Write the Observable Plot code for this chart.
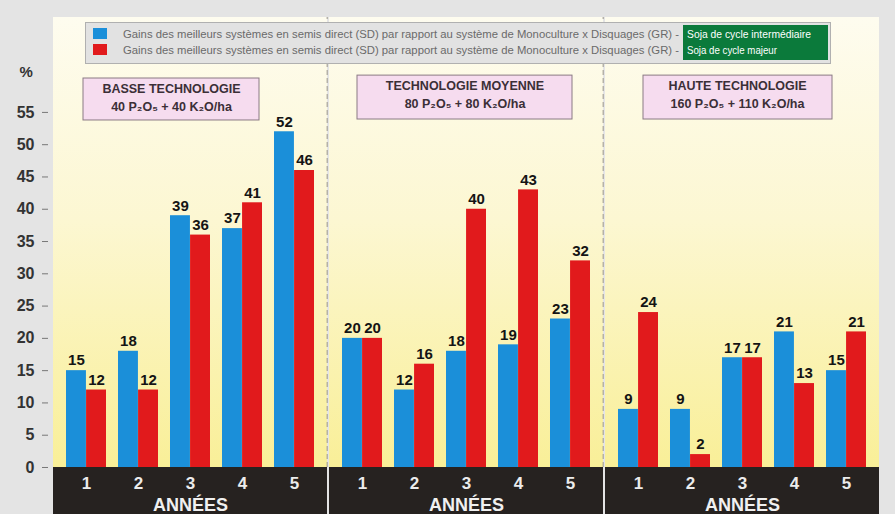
<!DOCTYPE html>
<html><head><meta charset="utf-8">
<script src="https://cdn.jsdelivr.net/npm/d3@7"></script>
<script src="https://cdn.jsdelivr.net/npm/@observablehq/plot@0.6"></script>
<style>
html,body{margin:0;padding:0;background:#e4e4e4;}
#wrap{position:relative;width:895px;height:514px;overflow:hidden;}
#wrap svg.legend{position:absolute;left:85px;top:22px;}
</style></head><body><div id="wrap"></div>
<script>
// ---- data ----
const technologies = ["BASSE TECHNOLOGIE", "TECHNOLOGIE MOYENNE", "HAUTE TECHNOLOGIE"];
const doses = ["40 P₂O₅ + 40 K₂O/ha", "80 P₂O₅ + 80 K₂O/ha", "160 P₂O₅ + 110 K₂O/ha"];
const years = ["1", "2", "3", "4", "5"];
const intermediateBasse = [15, 18, 39, 37, 52];
const intermediateMoyenne = [20, 12, 18, 19, 23];
const intermediateHaute = [9, 9, 17, 21, 15];
const majeurBasse = [12, 12, 36, 41, 46];
const majeurMoyenne = [20, 16, 40, 43, 32];
const majeurHaute = [24, 2, 17, 13, 21];
const yTicks = [0, 5, 10, 15, 20, 25, 30, 35, 40, 45, 50, 55];
const xTitle = "ANNÉES";
const yUnit = "%";
const legendText = "Gains des meilleurs systèmes en semis direct (SD) par rapport au système de Monoculture x Disquages (GR) -";
const seriesNames = ["Soja de cycle intermédiaire", "Soja de cycle majeur"];

// ---- layout ----
const W = 895, H = 514, ML = 52, MR = 15, MT = 17;
const yMin = -7.28, yMax = 69.7;
const fxPad = 0.0073, xPI = 0.24, xPO = 0.22;
const panelStep = (W - ML - MR) / (3 - fxPad);
const panelW = panelStep * (1 - fxPad);
const gap = panelStep - panelW;
const xStep = panelW / (5 - xPI + 2 * xPO);
const bw = xStep * (1 - xPI);

const blueVals = [intermediateBasse, intermediateMoyenne, intermediateHaute];
const redVals = [majeurBasse, majeurMoyenne, majeurHaute];
const blueRows = [], redRows = [], yearRows = [];
technologies.forEach((t, ti) => years.forEach((y, yi) => {
  blueRows.push({tech: t, year: y, value: blueVals[ti][yi]});
  redRows.push({tech: t, year: y, value: redVals[ti][yi]});
  yearRows.push({tech: t, year: y});
}));
const panels = technologies.map((t, i) => ({tech: t, dose: doses[i]}));

const BLUE = "#1b8fd9", RED = "#e11a1c";
const font = "Liberation Sans, Arial, Helvetica, sans-serif";

// annotation boxes (per panel insets relative to the facet frame)
const boxCfg = [
  {il: 30, ir: 68, dx: -19, top: 60.25, bot: 53.75},
  {il: 28, ir: 31, dx: -1.5, top: 60.7, bot: 53.9},
  {il: 38, ir: 47, dx: -5, top: 60.7, bot: 53.9}
];
const boxMarks = [];
panels.forEach((p, i) => {
  const c = boxCfg[i];
  boxMarks.push(Plot.rect([p], {fx: "tech", y1: () => c.bot, y2: () => c.top, insetLeft: c.il, insetRight: c.ir, fill: "#f6dcef", stroke: "#8a7a84", strokeWidth: 1}));
  boxMarks.push(Plot.text([p], {fx: "tech", y: () => c.top - 1.55, text: "tech", dx: c.dx, fontSize: 12.5, fontWeight: "bold", fill: "#3b2f37"}));
  boxMarks.push(Plot.text([p], {fx: "tech", y: () => c.top - 4.4, text: "dose", dx: c.dx, fontSize: 12.5, fontWeight: "bold", fill: "#3b2f37"}));
});

const chart = Plot.plot({
  width: W, height: H,
  marginLeft: ML, marginRight: MR, marginTop: MT, marginBottom: 0,
  style: {background: "transparent", fontFamily: font, overflow: "visible"},
  fx: {domain: technologies, paddingInner: fxPad, paddingOuter: 0, axis: null, label: null},
  x: {domain: years, paddingInner: xPI, paddingOuter: xPO, axis: null},
  y: {domain: [yMin, yMax], axis: null},
  marks: [
    Plot.rect(panels, {fx: "tech", y1: () => 0, y2: () => yMax, fill: "url(#bgGrad)"}),
    Plot.rect(panels, {fx: "tech", y1: () => yMin, y2: () => 0, fill: "#262220"}),
    Plot.ruleX(panels.slice(0, 2), {fx: "tech", x: () => "5", dx: bw / 2 + xPO * xStep + gap / 2, y1: () => 0, y2: () => yMax, stroke: "#a8a49a", strokeWidth: 1.2, strokeDasharray: "5,3"}),
    ...boxMarks,
    Plot.barY(blueRows, {fx: "tech", x: "year", y: "value", fill: BLUE, insetRight: bw / 2}),
    Plot.barY(redRows, {fx: "tech", x: "year", y: "value", fill: RED, insetLeft: bw / 2}),
    Plot.text(blueRows, {fx: "tech", x: "year", y: "value", text: "value", dx: -bw / 4, dy: -10, fontSize: 15, fontWeight: "bold", fill: "#141414"}),
    Plot.text(redRows, {fx: "tech", x: "year", y: "value", text: "value", dx: bw / 4, dy: -10, fontSize: 15, fontWeight: "bold", fill: "#141414"}),
    Plot.text(yearRows, {fx: "tech", x: "year", y: () => -2.45, text: "year", fill: "#ececec", fontSize: 17, fontWeight: "bold"}),
    Plot.text(panels, {fx: "tech", y: () => -5.85, text: () => xTitle, fill: "#f0f0f0", fontSize: 18, fontWeight: "bold"}),
    Plot.axisY(yTicks, {tickSize: 6, tickPadding: 8, dx: -5, fontSize: 16, fontWeight: "bold", fill: "#333", stroke: "#777", label: null}),
    Plot.text([panels[0]], {fx: "tech", frameAnchor: "left", dx: -34, y: () => 61.3, text: () => yUnit, fontSize: 15, fontWeight: "bold", fill: "#333"})
  ]
});

const svg = d3.select(chart);
const grad = svg.insert("defs", ":first-child").append("linearGradient")
  .attr("id", "bgGrad").attr("x1", 0).attr("y1", 0).attr("x2", 0).attr("y2", 1);
grad.append("stop").attr("offset", "0%").attr("stop-color", "#fefcef");
grad.append("stop").attr("offset", "45%").attr("stop-color", "#fcf7d2");
grad.append("stop").attr("offset", "100%").attr("stop-color", "#f9ef98");

const wrap = document.getElementById("wrap");
wrap.appendChild(chart);

// legend overlay
const lg = d3.select(wrap).append("svg").attr("class", "legend").attr("width", 748).attr("height", 44);
lg.append("rect").attr("x", 0.5).attr("y", 0.5).attr("width", 745).attr("height", 41).attr("fill", "#e2e2e2").attr("stroke", "#b0b0b0");
lg.append("rect").attr("x", 8).attr("y", 6).attr("width", 14).attr("height", 11).attr("fill", BLUE);
lg.append("rect").attr("x", 8).attr("y", 22).attr("width", 14).attr("height", 11).attr("fill", RED);
[15.5, 31.5].forEach(yb => lg.append("text").attr("x", 38).attr("y", yb).attr("font-family", font)
  .attr("font-size", 10.5).attr("fill", "#6a6a6a").attr("textLength", 556).attr("lengthAdjust", "spacingAndGlyphs").text(legendText));
lg.append("rect").attr("x", 598).attr("y", 3).attr("width", 145).attr("height", 35).attr("fill", "#0b7a3b");
lg.append("text").attr("x", 602).attr("y", 15.5).attr("font-family", font).attr("font-size", 10.5).attr("fill", "#fff")
  .attr("textLength", 124).attr("lengthAdjust", "spacingAndGlyphs").text(seriesNames[0]);
lg.append("text").attr("x", 602).attr("y", 31.5).attr("font-family", font).attr("font-size", 10.5).attr("fill", "#fff")
  .attr("textLength", 90).attr("lengthAdjust", "spacingAndGlyphs").text(seriesNames[1]);
</script></body></html>
